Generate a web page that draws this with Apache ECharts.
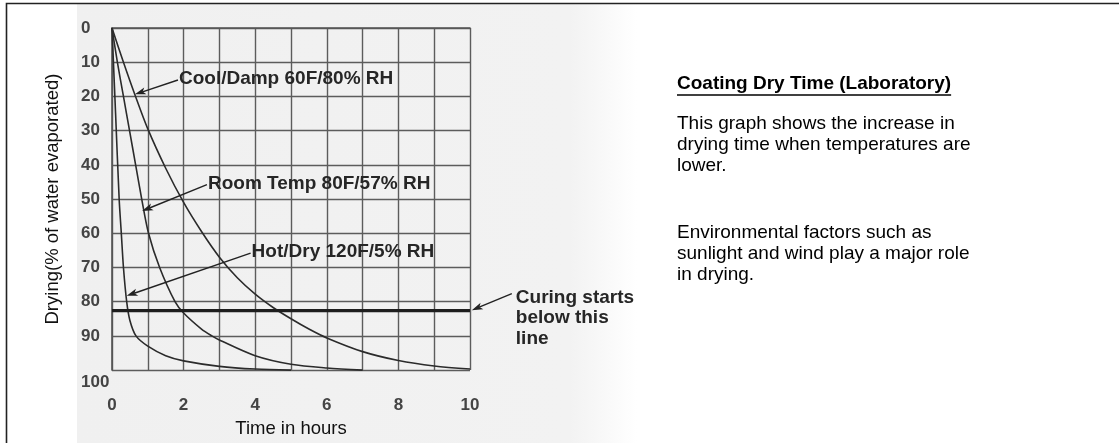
<!DOCTYPE html>
<html>
<head>
<meta charset="utf-8">
<script src="https://cdn.jsdelivr.net/npm/echarts@6/dist/echarts.min.js"></script>
<style>
html,body{margin:0;padding:0;background:#fff;}
#chart{width:1119px;height:443px;}
</style>
</head>
<body>
<div id="chart"></div>
<script>
// ---- data ----
const coolDamp = [[0,0],[0.32,10],[0.64,19.5],[1,29.5],[1.5,41],[2,51],[2.5,59.5],[3,67],[3.5,73],[4,77.8],[4.5,81.7],[5,85],[5.5,88],[6,90.6],[7,94.6],[8,97.2],[9,98.8],[10,99.7]];
const roomTemp = [[0,0],[0.15,10],[0.32,20],[0.49,30],[0.66,40],[0.83,50],[1.02,60],[1.33,70],[1.76,80],[2,83.3],[2.5,88],[2.79,90],[3,91.2],[4,95.8],[5,98.3],[6,99.4],[7,100]];
const hotDry = [[0,0],[0.04,10],[0.1,25],[0.2,50],[0.26,60],[0.32,70],[0.41,80],[0.5,85.5],[0.67,90],[1,93],[1.5,95.8],[2,97.3],[3,98.9],[4,99.7],[5,100]];
const curingLevel = 82.6;
const xTickLabels = [0,2,4,6,8,10];
const yTickLabels = [0,10,20,30,40,50,60,70,80,90,100];
const annotations = [
  {text:'Cool/Damp 60F/80% RH', label:[1.87,14.9], head:[0.64,19.4]},
  {text:'Room Temp 80F/57% RH', label:[2.68,45.5], head:[0.84,53.5]},
  {text:'Hot/Dry 120F/5% RH', label:[3.9,65.5], head:[0.41,78.3]}
];
const curingText = ['Curing starts','below this','line'];
const curingAnchor = {label:[11.28,78.8], head:[10.05,82.5]};
const sideTitle = 'Coating Dry Time (Laboratory)';
const sidePara1 = ['This graph shows the increase in','drying time when temperatures are','lower.'];
const sidePara2 = ['Environmental factors such as','sunlight and wind play a major role','in drying.'];

const FONT = '"Liberation Sans", Arial, Helvetica, sans-serif';
const chart = echarts.init(document.getElementById('chart'), null, {renderer:'canvas'});
const lineColor = '#2b2b2b';
const gridColor = '#5c5c5c';

function curve(name, data){
  return {type:'line', name, data, showSymbol:false, symbol:'none', smooth:0.3,
    lineStyle:{color:lineColor, width:1.6}, z:3, silent:true, animation:false};
}

chart.setOption({
  animation:false,
  backgroundColor:'#ffffff',
  grid:{left:112, right:649, top:28, bottom:65, containLabel:false},
  xAxis:{type:'value', min:0, max:10, interval:1,
    name:'Time in hours', nameLocation:'middle', nameGap:42,
    nameTextStyle:{fontFamily:FONT, fontSize:18.5, color:'#111'},
    axisLine:{show:true, lineStyle:{color:'#555', width:1.6}},
    axisTick:{show:false},
    axisLabel:{margin:27, fontFamily:FONT, fontSize:17, fontWeight:'bold', color:'#444',
      formatter:v => xTickLabels.indexOf(v) >= 0 ? String(v) : ''},
    splitLine:{show:true, lineStyle:{color:gridColor, width:1.4}}
  },
  yAxis:{type:'value', inverse:true, min:0, max:100, interval:10,
    name:'Drying(% of water evaporated)', nameLocation:'middle', nameGap:50, nameRotate:90,
    nameTextStyle:{fontFamily:FONT, fontSize:18.5, color:'#111'},
    axisLine:{show:true, lineStyle:{color:'#555', width:1.6}},
    axisTick:{show:false},
    axisLabel:{margin:31, align:'left', fontFamily:FONT, fontSize:17, fontWeight:'bold', color:'#444',
      formatter:v => yTickLabels.indexOf(v) < 0 ? '' : (v === 100 ? '{b|' + v + '}' : '{a|' + v + '}'),
      rich:{a:{fontFamily:FONT, fontSize:17, fontWeight:'bold', color:'#444'},
            b:{fontFamily:FONT, fontSize:17, fontWeight:'bold', color:'#444', padding:[24,0,0,0]}}},
    splitLine:{show:true, lineStyle:{color:gridColor, width:1.4}}
  },
  series:[
    curve('Cool/Damp 60F/80% RH', coolDamp),
    curve('Room Temp 80F/57% RH', roomTemp),
    curve('Hot/Dry 120F/5% RH', hotDry),
    {type:'line', name:'Curing', data:[[0,curingLevel],[10,curingLevel]], showSymbol:false, symbol:'none',
      lineStyle:{color:'#1e1e1e', width:3.2}, z:4, silent:true}
  ]
});

// ---- annotations positioned through the chart's own scales ----
const P = p => chart.convertToPixel({gridIndex:0}, p);
const g = [];
const ctx = document.createElement('canvas').getContext('2d');
function textWidth(t, font){ ctx.font = font; return ctx.measureText(t).width; }

// background of the scanned figure area
g.push({type:'rect', z:-10, silent:true, shape:{x:77, y:4, width:560, height:445},
  style:{fill:new echarts.graphic.LinearGradient(0,0,1,0,[{offset:0,color:'#f0f0f0'},{offset:0.88,color:'#f2f2f2'},{offset:1,color:'#ffffff'}])}});
// outer frame (left and top edges visible)
g.push({type:'rect', z:50, silent:true, shape:{x:6.5, y:3.5, width:1130, height:460},
  style:{fill:'none', stroke:'#222', lineWidth:1.6}});

function arrow(tail, tip){
  const dx = tip[0]-tail[0], dy = tip[1]-tail[1];
  const len = Math.sqrt(dx*dx+dy*dy), ux = dx/len, uy = dy/len;
  const L = 11, W = 3.6;
  const bx = tip[0]-ux*L, by = tip[1]-uy*L;
  g.push({type:'line', z:20, silent:true, shape:{x1:tail[0], y1:tail[1], x2:bx+ux*3, y2:by+uy*3},
    style:{stroke:'#222', lineWidth:1.4}});
  g.push({type:'polygon', z:20, silent:true, shape:{points:[[tip[0],tip[1]],[bx-uy*W,by+ux*W],[tip[0]-ux*L*0.75, tip[1]-uy*L*0.75],[bx+uy*W,by-ux*W]]},
    style:{fill:'#222'}});
}

annotations.forEach(a => {
  const lp = P(a.label), hp = P(a.head);
  g.push({type:'text', z:20, silent:true, x:lp[0], y:lp[1],
    style:{text:a.text, fontFamily:FONT, fontSize:19, fontWeight:'bold', fill:'#262626', verticalAlign:'middle', align:'left'}});
  arrow([lp[0]-1, lp[1]+1], hp);
});
{
  const lp = P(curingAnchor.label), hp = P(curingAnchor.head);
  curingText.forEach((t,i) => {
    g.push({type:'text', z:20, silent:true, x:lp[0], y:lp[1] + i*20.5,
      style:{text:t, fontFamily:FONT, fontSize:19, fontWeight:'bold', fill:'#262626', verticalAlign:'middle', align:'left'}});
  });
  arrow([lp[0]-4, lp[1]-4], hp);
}

// side text
const sx = 677;
g.push({type:'text', silent:true, x:sx, y:84, style:{text:sideTitle, fontFamily:FONT, fontSize:19, fontWeight:'bold', fill:'#000', verticalAlign:'middle'}});
const tw = textWidth(sideTitle, 'bold 19px ' + FONT);
g.push({type:'line', silent:true, shape:{x1:sx, y1:95, x2:sx+tw, y2:95}, style:{stroke:'#000', lineWidth:1.6}});
sidePara1.forEach((t,i) => g.push({type:'text', silent:true, x:sx, y:124 + i*21, style:{text:t, fontFamily:FONT, fontSize:19, fill:'#000', verticalAlign:'middle'}}));
sidePara2.forEach((t,i) => g.push({type:'text', silent:true, x:sx, y:233 + i*21, style:{text:t, fontFamily:FONT, fontSize:19, fill:'#000', verticalAlign:'middle'}}));

chart.setOption({graphic:{elements:g}});
</script>
</body>
</html>
